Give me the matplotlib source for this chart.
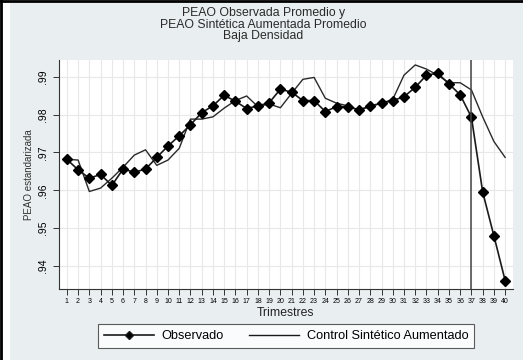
import matplotlib
matplotlib.use("Agg")
import matplotlib.pyplot as plt
from matplotlib.lines import Line2D

plt.rcParams['font.family'] = ['Liberation Sans', 'DejaVu Sans']

quarters = list(range(1, 41))
observado = [0.9682, 0.9654, 0.9632, 0.9642, 0.9613, 0.9656, 0.9648, 0.9656, 0.9687, 0.9717,
             0.9744, 0.9773, 0.9805, 0.9823, 0.9851, 0.9835, 0.9816, 0.9823, 0.9831, 0.9867,
             0.9859, 0.9837, 0.9837, 0.9808, 0.9821, 0.9821, 0.9812, 0.9823, 0.9830, 0.9837,
             0.9847, 0.9872, 0.9904, 0.9909, 0.9881, 0.9852, 0.9793, 0.9596, 0.9480, 0.9362]
sintetico = [0.9682, 0.9680, 0.9597, 0.9606, 0.9632, 0.9661, 0.9693, 0.9707, 0.9666, 0.9680,
             0.9711, 0.9788, 0.9788, 0.9794, 0.9817, 0.9837, 0.9849, 0.9821, 0.9828, 0.9818,
             0.9856, 0.9893, 0.9898, 0.9843, 0.9830, 0.9823, 0.9812, 0.9821, 0.9830, 0.9840,
             0.9904, 0.9931, 0.9920, 0.9904, 0.9884, 0.9884, 0.9865, 0.9794, 0.9729, 0.9687]
yticks = [0.94, 0.95, 0.96, 0.97, 0.98, 0.99]
ytick_labels = ['.94', '.95', '.96', '.97', '.98', '.99']
tratamiento = 37

bg = '#e9eef1'
fig = plt.figure(figsize=(5.23, 3.60), dpi=100, facecolor=bg)
ax = fig.add_axes([59 / 523, 1 - 288.5 / 360, (513 - 59) / 523, (288.5 - 60) / 360])
ax.set_facecolor('white')

ax.set_xlim(0.3, 40.7)
ax.set_ylim(0.9341, 0.9944)

ax.set_xticks(quarters)
ax.set_xticklabels([str(q) for q in quarters], fontsize=5.0)
ax.set_yticks(yticks)
ax.set_yticklabels(ytick_labels, fontsize=7.5, rotation=90, va='center')
ax.tick_params(axis='both', direction='out', length=4, width=0.7, color='#333333')
ax.tick_params(axis='x', pad=3)
ax.tick_params(axis='y', pad=4)

ax.grid(True, color='#e8e8e8', linewidth=0.8)
ax.set_axisbelow(True)
for side in ['top', 'right']:
    ax.spines[side].set_visible(False)
for side in ['left', 'bottom']:
    ax.spines[side].set_color('#333333')
    ax.spines[side].set_linewidth(0.8)

ax.plot(quarters, sintetico, color='#2a2a2a', linewidth=1.0)
ax.plot(quarters, observado, color='#1a1a1a', linewidth=1.2, marker='D',
        markersize=4.6, markerfacecolor='black', markeredgecolor='black')
ax.axvline(tratamiento, color='#444444', linewidth=1.1)

ax.set_xlabel('Trimestres', fontsize=8.8, labelpad=1, color='#222222')
ax.set_ylabel('PEAO estandarizada', fontsize=7, labelpad=3, color='#333333')

fig.text(0.503, 1 - 24.5 / 360, 'PEAO Observada Promedio y\nPEAO Sintética Aumentada Promedio\nBaja Densidad',
         ha='center', va='center', fontsize=8.85, linespacing=0.92, color='#2a2a2a')

handles = [Line2D([], [], color='#1a1a1a', linewidth=1.2, marker='D', markersize=4,
                  markerfacecolor='black'),
           Line2D([], [], color='#1a1a1a', linewidth=1.0)]
leg = fig.legend(handles, ['Observado', 'Control Sintético Aumentado'], ncol=2,
                 loc='center', bbox_to_anchor=(286 / 523, 1 - 336 / 360),
                 fontsize=9.2, frameon=True, fancybox=False, edgecolor='#333333',
                 handlelength=3.9, columnspacing=2.0, borderpad=0.45, handletextpad=0.6)
leg.get_frame().set_linewidth(0.8)
leg.get_frame().set_facecolor('white')

# border lines at the top and left edges
fig.add_artist(Line2D([0, 1], [1 - 1.2 / 360, 1 - 1.2 / 360], transform=fig.transFigure,
                      color='black', linewidth=2.0))
fig.add_artist(plt.Rectangle((2.5 / 523, 0), 7.5 / 523, 1, transform=fig.transFigure,
                             facecolor='white', edgecolor='none'))
fig.add_artist(Line2D([1.2 / 523, 1.2 / 523], [0, 1], transform=fig.transFigure,
                      color='black', linewidth=2.0))

fig.savefig('out.png', dpi=100, facecolor=bg)
